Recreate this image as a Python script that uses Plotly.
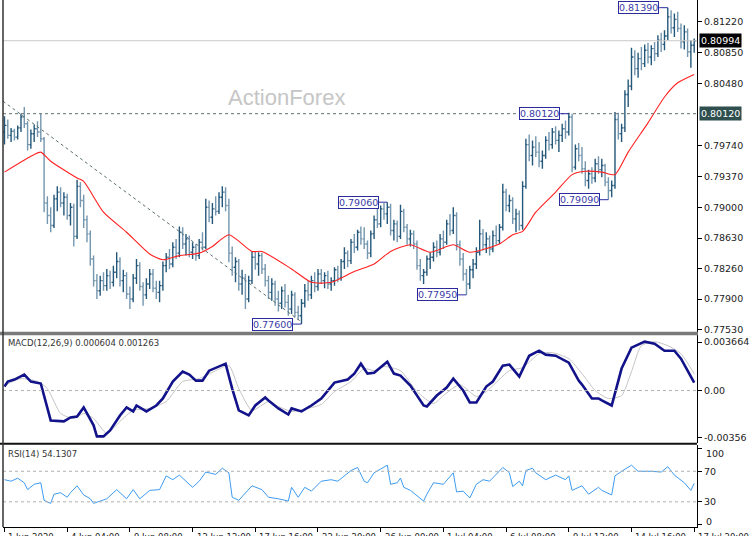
import plotly.graph_objects as go

W, H = 750, 536

# ---------------- DATA (prices in pips, /10000) ----------------
opens = [7990,7998,7986,7991,7984,7995,8008,8000,7975,7988,7994,7990,7982,7905,7890,
7878,7910,7918,7905,7912,7890,7900,7865,7925,7908,7885,7868,7838,7812,7800,
7812,7806,7818,7810,7822,7835,7812,7818,7796,7790,7815,7830,7805,7795,7808,
7820,7803,7798,7806,7830,7840,7832,7852,7845,7870,7856,7862,7846,7852,7842,
7858,7852,7900,7888,7898,7895,7912,7918,7902,7845,7828,7835,7808,7815,7790,
7812,7840,7832,7842,7826,7812,7798,7808,7790,7785,7800,7786,7778,7795,7774,
7770,7785,7800,7795,7812,7805,7820,7812,7818,7808,7812,7825,7815,7835,7845,
7836,7858,7852,7870,7862,7856,7845,7868,7885,7880,7898,7892,7900,7872,7880,
7865,7895,7876,7862,7868,7856,7830,7818,7822,7838,7840,7852,7846,7862,7858,
7880,7872,7890,7855,7838,7820,7808,7825,7832,7846,7868,7855,7862,7850,7866,
7860,7876,7918,7902,7908,7886,7892,7878,7925,7975,7962,7972,7966,7955,7962,
7980,7975,7990,7980,7986,7994,7990,8008,7948,7970,7962,7946,7932,7940,7935,
7952,7945,7950,7930,7920,7926,8005,7988,7995,8035,8045,8080,8066,8078,8072,
8088,8080,8090,8084,8100,8095,8105,8128,8115,8125,8114,8098,8110,8086,8094]

highs = [8009,8005,7995,7994,7998,8012,8020,8003,7993,7999,8003,8012,7984,7913,7900,
7915,7925,7924,7918,7916,7905,7904,7933,7930,7915,7890,7872,7842,7820,7818,
7822,7826,7824,7830,7846,7840,7825,7822,7805,7820,7838,7834,7810,7815,7826,
7826,7812,7812,7835,7845,7850,7858,7862,7877,7876,7868,7866,7858,7856,7862,
7870,7910,7908,7905,7913,7918,7925,7924,7910,7853,7840,7838,7825,7820,7818,
7847,7847,7846,7845,7832,7818,7815,7812,7800,7805,7808,7795,7800,7798,7782,
7790,7808,7812,7818,7822,7826,7826,7822,7824,7816,7828,7830,7838,7852,7848,
7862,7868,7873,7877,7876,7860,7872,7890,7898,7902,7905,7906,7904,7885,7884,
7903,7898,7880,7873,7872,7860,7838,7826,7842,7846,7858,7860,7868,7872,7885,
7892,7900,7894,7860,7845,7826,7830,7838,7852,7885,7874,7870,7866,7872,7878,
7880,7928,7922,7915,7912,7898,7896,7931,7982,7987,7980,7985,7978,7968,7985,
7990,7995,7997,7992,8000,8004,8013,8012,7975,7977,7972,7955,7945,7948,7958,
7961,7958,7952,7936,7932,8014,8013,8000,8040,8053,8091,8088,8085,8092,8095,
8097,8094,8098,8106,8109,8112,8139,8136,8132,8134,8120,8118,8114,8100,8102]

lows = [7975,7982,7978,7980,7981,7990,7995,7968,7970,7978,7984,7978,7894,7880,7870,
7875,7895,7900,7890,7885,7878,7853,7862,7900,7875,7858,7830,7805,7790,7794,
7800,7800,7802,7805,7815,7805,7798,7790,7778,7786,7808,7800,7782,7790,7802,
7798,7790,7786,7800,7822,7826,7828,7838,7840,7850,7842,7840,7838,7836,7838,
7848,7850,7882,7880,7890,7892,7900,7895,7834,7818,7810,7800,7795,7778,7786,
7808,7825,7818,7820,7805,7790,7788,7782,7775,7778,7780,7770,7772,7768,7765,
7760,7780,7788,7790,7798,7800,7808,7803,7802,7800,7806,7810,7812,7826,7828,
7832,7845,7848,7855,7850,7838,7840,7862,7875,7876,7885,7880,7866,7860,7858,
7862,7870,7855,7853,7850,7825,7812,7808,7818,7826,7835,7840,7842,7850,7855,
7866,7868,7848,7830,7812,7795,7802,7815,7826,7842,7848,7845,7842,7846,7855,
7856,7872,7895,7894,7880,7870,7872,7873,7922,7955,7950,7960,7948,7946,7958,
7968,7970,7975,7966,7978,7982,7986,7942,7945,7955,7940,7925,7922,7928,7930,
7940,7936,7925,7909,7912,7922,7981,7978,7990,8020,8040,8058,8055,8064,8068,
8072,8070,8075,8080,8086,8088,8100,8108,8104,8110,8090,8089,8080,8067,8085]

closes = [7998,7986,7991,7984,7995,8008,8000,7975,7988,7994,7990,7982,7905,7890,7878,
7910,7918,7905,7912,7890,7900,7865,7925,7908,7885,7868,7838,7812,7800,7812,
7806,7818,7810,7822,7835,7812,7818,7796,7790,7815,7830,7805,7795,7808,7820,
7803,7798,7806,7830,7840,7832,7852,7845,7870,7856,7862,7846,7852,7842,7858,
7852,7900,7888,7898,7895,7912,7918,7902,7845,7828,7835,7808,7815,7790,7812,
7840,7832,7842,7826,7812,7798,7808,7790,7785,7800,7786,7778,7795,7774,7770,
7785,7800,7795,7812,7805,7820,7812,7818,7808,7812,7825,7815,7835,7845,7836,
7858,7852,7870,7862,7856,7845,7868,7885,7880,7898,7892,7900,7872,7880,7865,
7895,7876,7862,7868,7856,7830,7818,7822,7838,7840,7852,7846,7862,7858,7880,
7872,7890,7855,7838,7820,7808,7825,7832,7846,7868,7855,7862,7850,7866,7860,
7876,7918,7902,7908,7886,7892,7878,7925,7975,7962,7972,7966,7955,7962,7980,
7975,7990,7980,7986,7994,7990,8008,7948,7970,7962,7946,7932,7940,7935,7952,
7945,7950,7930,7920,7926,8005,7988,7995,8035,8045,8080,8066,8078,8072,8088,
8080,8090,8084,8100,8095,8105,8128,8115,8125,8114,8098,8110,8086,8094,8099.4]

# moving average (red), read at selected bars
ma_bar = [0,8,11,14,22,24,30,37,44,48,53,59,63,68,75,78,87,93,99,106,112,117,123,129,
          136,141,150,154,157,161,167,172,176,181,185,189,195,200,204,209]
ma_val = [7942,7961,7966,7955,7935,7931,7894,7870,7844,7837,7842,7845,7853,7867,7847,7847,
          7826,7810,7810,7823,7832,7847,7855,7846,7855,7846,7856,7867,7871,7894,7918,7939,
          7943,7942,7939,7966,8001,8032,8049,8059]

# trend line (dashed)
trend_bar = [-0.45, 89.5]
trend_val = [0.8027, 0.7764]

# MACD main line
macd_bar = [0,1,3,6,8,11,14,18,20,22,24,27,28,30,32,35,37,39,40,43,46,48,51,54,56,58,60,62,
            67,69,71,74,76,79,80,83,86,87,90,93,96,100,104,106,108,110,112,116,118,120,123,
            127,128,131,134,136,139,141,143,146,148,151,153,156,159,162,164,167,171,174,175,
            178,180,181,184,187,190,194,197,200,203,205,207,209]
macd_val = [0.00030,0.00068,0.00083,0.00120,0.00068,0.00053,-0.00226,-0.00233,-0.00203,-0.00196,
            -0.00128,-0.00263,-0.00346,-0.00346,-0.00301,-0.00188,-0.00128,-0.00158,-0.00113,-0.00158,
            -0.00113,-0.00060,0.00068,0.00143,0.00120,0.00075,0.00075,0.00150,0.00203,0.00015,
            -0.00150,-0.00188,-0.00113,-0.00053,-0.00075,-0.00135,-0.00181,-0.00135,-0.00158,-0.00113,
            -0.00060,0.00060,0.00083,0.00128,0.00203,0.00128,0.00135,0.00218,0.00128,0.00113,
            0.00038,-0.00113,-0.00120,-0.00038,0.00023,0.00090,0.00000,-0.00090,-0.00090,0.00030,
            0.00068,0.00188,0.00196,0.00105,0.00263,0.00301,0.00271,0.00263,0.00211,0.00075,
            0.00045,-0.00060,-0.00060,-0.00075,-0.00113,0.00166,0.00324,0.00369,0.00354,0.00301,
            0.00301,0.00241,0.00150,0.000604]

# MACD signal line
sig_bar = [0,5,10,13,17,21,24,27,31,35,39,44,49,54,59,64,68,71,75,80,83,87,92,96,100,105,109,
           112,115,120,125,130,133,138,143,146,153,157,162,166,171,175,179,183,187,190,193,197,
           201,205,209]
sig_val = [0.00038,0.00090,0.00068,0.00015,-0.00173,-0.00211,-0.00173,-0.00211,-0.00324,-0.00233,
           -0.00150,-0.00135,-0.00083,0.00068,0.00090,0.00150,0.00188,0.00015,-0.00150,-0.00083,
           -0.00120,-0.00158,-0.00135,-0.00105,-0.00008,0.00068,0.00166,0.00150,0.00181,0.00150,
           -0.00008,-0.00098,-0.00038,0.00045,-0.00045,-0.00008,0.00150,0.00173,0.00278,0.00286,
           0.00241,0.00128,0.00000,-0.00060,-0.00038,0.00143,0.00339,0.00369,0.00339,0.00278,
           0.001263]

# RSI(14)
rsi_bar = [0,2,4,6,7,9,11,12,14,15,17,19,20,22,24,26,27,31,34,37,39,41,44,47,49,51,53,57,59,61,
           64,66,68,69,71,75,78,80,83,86,87,89,91,93,96,99,101,105,107,109,110,112,116,117,119,
           120,121,123,127,128,130,133,136,137,139,141,143,145,147,151,153,154,156,157,158,160,
           161,164,167,170,171,172,175,177,180,181,184,185,187,190,192,196,199,201,203,206,208,209]
rsi_val = [59,57,61,55,46,53,55,32,28,40,42,36,42,51,39,34,28,34,46,34,46,34,45,46,64,59,65,49,
           57,69,66,74,68,36,32,51,46,36,34,31,49,36,49,44,57,59,57,71,75,57,55,68,78,53,55,61,49,
           45,31,40,55,53,68,43,44,35,53,59,57,75,68,50,57,51,71,74,68,59,65,59,64,45,51,40,49,45,
           39,64,70,78,70,70,69,76,65,55,45,54.1307]

# marked highs / lows
mark_val = [0.8139, 0.8012, 0.7909, 0.7906, 0.7795, 0.7760]
mark_bar = [201, 171, 183, 116, 140, 90]

price_ticks = [0.7753, 0.7790, 0.7826, 0.7863, 0.7900, 0.7937, 0.7974, 0.8048, 0.8085, 0.8122]
macd_ticks = [0.003664, 0.0, -0.00356]
macd_tick_text = ["0.003664", "0.00", "-0.00356"]
rsi_ticks = [70, 30]
rsi_axis_ticks = [100, 70, 30, 0]

time_bar = [0, 19, 38, 57, 76, 95, 114, 133, 152, 171, 190, 209]
time_text = ["1 Jun 2020", "4 Jun 04:00", "9 Jun 08:00", "12 Jun 12:00", "17 Jun 16:00",
             "22 Jun 20:00", "26 Jun 00:00", "1 Jul 04:00", "6 Jul 08:00", "9 Jul 12:00",
             "14 Jul 16:00", "17 Jul 20:00"]

bid_price = 0.80994
level_price = 0.8012

# ---------------- BUILD ----------------
P = 10000.0
N = len(closes)
xs = list(range(N))

def py(px):
    return 1 - px / H

def pxx(px):
    return px / W

FONT = "DejaVu Sans"

fig = go.Figure()
fig.add_trace(go.Ohlc(
    x=xs, open=[v / P for v in opens], high=[v / P for v in highs],
    low=[v / P for v in lows], close=[v / P for v in closes],
    increasing=dict(line=dict(color="#24587a", width=1.4)),
    decreasing=dict(line=dict(color="#7496ae", width=1.4)),
    tickwidth=0.45, xaxis="x", yaxis="y", hoverinfo="skip", showlegend=False))

fig.add_trace(go.Scatter(x=ma_bar, y=[v / P for v in ma_val], mode="lines",
                         line=dict(color="#ff2020", width=1.1, shape="spline", smoothing=0.6),
                         xaxis="x", yaxis="y", hoverinfo="skip", showlegend=False))
fig.add_trace(go.Scatter(x=trend_bar, y=trend_val, mode="lines",
                         line=dict(color="#5a6e6e", width=1, dash="3px,3px"),
                         xaxis="x", yaxis="y", hoverinfo="skip", showlegend=False))

fig.add_trace(go.Scatter(x=sig_bar, y=sig_val, mode="lines",
                         line=dict(color="#c4c4c4", width=1, shape="spline", smoothing=0.6),
                         xaxis="x2", yaxis="y2", hoverinfo="skip", showlegend=False))
fig.add_trace(go.Scatter(x=macd_bar, y=macd_val, mode="lines",
                         line=dict(color="#12128a", width=2.6),
                         xaxis="x2", yaxis="y2", hoverinfo="skip", showlegend=False))

fig.add_trace(go.Scatter(x=rsi_bar, y=rsi_val, mode="lines",
                         line=dict(color="#3d9bf0", width=1),
                         xaxis="x3", yaxis="y3", hoverinfo="skip", showlegend=False))

XDOM = [pxx(3), pxx(697)]
XR = [-0.45, 209.85]
tickfont = dict(family=FONT, size=9.5, color="#222")

common_x = dict(domain=XDOM, range=XR, showgrid=False, zeroline=False,
                showticklabels=False, fixedrange=True)
fig.update_layout(
    width=W, height=H, margin=dict(l=0, r=0, t=0, b=0),
    paper_bgcolor="white", plot_bgcolor="white", showlegend=False,
    xaxis=dict(**common_x, anchor="y", rangeslider=dict(visible=False)),
    xaxis2=dict(**common_x, anchor="y2", matches="x"),
    xaxis3=dict(**common_x, anchor="y3", matches="x", ticks="outside", ticklen=4,
                tickcolor="#000", tickvals=time_bar, showline=True, linecolor="#000",
                linewidth=1),
    yaxis=dict(domain=[py(334), 1], range=[0.77496, 0.81482], side="right",
               tickvals=price_ticks, ticktext=[f"{v:.5f}" for v in price_ticks],
               ticks="outside", ticklen=4, tickcolor="#000", showline=True,
               linecolor="#000", showgrid=False, zeroline=False, tickfont=tickfont,
               anchor="x", fixedrange=True),
    yaxis2=dict(domain=[py(445), py(336)], range=[-0.003988, 0.004214], side="right",
                tickvals=macd_ticks, ticktext=macd_tick_text, ticks="outside", ticklen=4,
                tickcolor="#000", showline=True, linecolor="#000", showgrid=False,
                zeroline=False, tickfont=tickfont, anchor="x2", fixedrange=True),
    yaxis3=dict(domain=[py(529), py(447)], range=[-3, 104], side="right",
                tickvals=rsi_axis_ticks, ticktext=["", "70", "30", ""],
                ticks="outside", ticklen=4, tickcolor="#000", showline=True,
                linecolor="#000", showgrid=False, zeroline=False, tickfont=tickfont,
                anchor="x3", fixedrange=True),
)

shapes = []
shapes.append(dict(type="line", xref="paper", yref="y", x0=XDOM[0], x1=XDOM[1],
                   y0=bid_price, y1=bid_price, line=dict(color="#c8c8c8", width=1)))
shapes.append(dict(type="line", xref="paper", yref="y", x0=XDOM[0], x1=XDOM[1],
                   y0=level_price, y1=level_price,
                   line=dict(color="#5f6f6f", width=1, dash="3px,3px")))
shapes.append(dict(type="line", xref="paper", yref="y2", x0=XDOM[0], x1=XDOM[1],
                   y0=0, y1=0, line=dict(color="#b0b0b0", width=1, dash="3px,3px")))
for lv in rsi_ticks:
    shapes.append(dict(type="line", xref="paper", yref="y3", x0=XDOM[0], x1=XDOM[1],
                       y0=lv, y1=lv, line=dict(color="#b0b0b0", width=1, dash="3px,3px")))
shapes.append(dict(type="rect", xref="paper", yref="paper", x0=0, x1=pxx(698),
                   y0=py(336.5), y1=py(333), fillcolor="#7a7a7a", line=dict(width=0)))
shapes.append(dict(type="line", xref="paper", yref="paper", x0=0, x1=pxx(697),
                   y0=py(445.5), y1=py(445.5), line=dict(color="#111", width=2)))
shapes.append(dict(type="line", xref="paper", yref="paper", x0=pxx(3), x1=pxx(3),
                   y0=py(0), y1=py(529), line=dict(color="#333", width=1.5)))
GAP = 2.6
for v, b in zip(mark_val, mark_bar):
    shapes.append(dict(type="line", xref="x", yref="y", x0=b - GAP, x1=b, y0=v, y1=v,
                       line=dict(color="#2b2b9e", width=1)))
fig.update_layout(shapes=shapes)

ann = []
for v, b in zip(mark_val, mark_bar):
    ann.append(dict(x=b - GAP, y=v, xref="x", yref="y", xanchor="right", yanchor="middle",
                    text=f"{v:.5f}", showarrow=False,
                    font=dict(family=FONT, size=9.5, color="#3a3aa8"),
                    bgcolor="white", bordercolor="#2b2b9e", borderwidth=1, borderpad=0))
ann.append(dict(x=pxx(699), y=bid_price, xref="paper", yref="y", xanchor="left",
                yanchor="middle", text=f"{bid_price:.5f}", showarrow=False,
                font=dict(family=FONT, size=9.5, color="white"), bgcolor="#000",
                borderpad=1))
ann.append(dict(x=pxx(699), y=level_price, xref="paper", yref="y", xanchor="left",
                yanchor="middle", text=f"{level_price:.5f}", showarrow=False,
                font=dict(family=FONT, size=9.5, color="white"), bgcolor="#2f4f4f",
                borderpad=1))
# RSI end labels (placed inside the panel as in the reference)
ann.append(dict(x=pxx(704), y=py(455), xref="paper", yref="paper", xanchor="left",
                yanchor="middle", text=str(rsi_axis_ticks[0]), showarrow=False,
                font=tickfont))
ann.append(dict(x=pxx(704), y=py(523), xref="paper", yref="paper", xanchor="left",
                yanchor="middle", text=str(rsi_axis_ticks[-1]), showarrow=False,
                font=tickfont))
ann.append(dict(x=pxx(286), y=py(83), xref="paper", yref="paper", text="ActionForex",
                showarrow=False, font=dict(family="Liberation Sans", size=22, color="#c6c6c6")))
ann.append(dict(x=pxx(6), y=py(344), xref="paper", yref="paper", xanchor="left",
                yanchor="middle", text="MACD(12,26,9) 0.000604 0.001263", showarrow=False,
                font=dict(family=FONT, size=8.5, color="#333")))
ann.append(dict(x=pxx(6), y=py(456), xref="paper", yref="paper", xanchor="left",
                yanchor="middle", text="RSI(14) 54.1307", showarrow=False,
                font=dict(family=FONT, size=8.5, color="#333")))
for b, t in zip(time_bar, time_text):
    ann.append(dict(x=b, y=py(532), xref="x3", yref="paper", xanchor="left", xshift=2,
                    yanchor="top", text=t, showarrow=False,
                    font=dict(family=FONT, size=8.5, color="#222")))
fig.update_layout(annotations=ann)

fig.write_html("out.html")
